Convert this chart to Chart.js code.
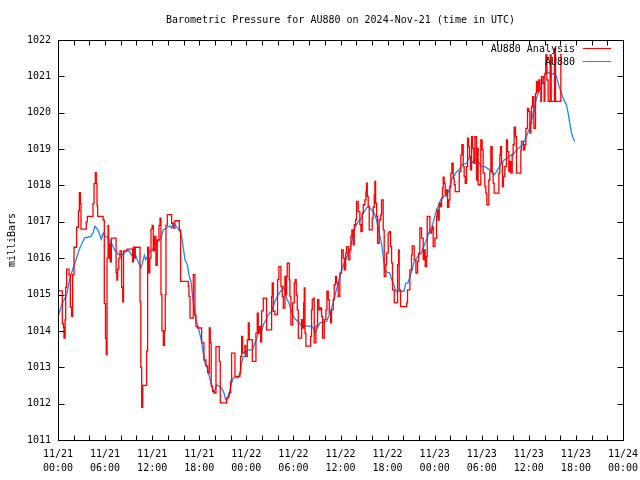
<!DOCTYPE html>
<html>
<head>
<meta charset="utf-8">
<title>Barometric Pressure for AU880</title>
<script src="https://cdn.jsdelivr.net/npm/chart.js@4.4.1/dist/chart.umd.min.js"></script>
<style>
  html, body { margin: 0; padding: 0; background: #fff; }
  canvas { display: block; }
</style>
</head>
<body>
<canvas id="pressureChart" width="640" height="480"></canvas>
<script>
// x values are hours since 2024-11-21 00:00 UTC
const analysisHours = [
  0.0, 0.55, 0.7, 0.76, 0.9, 0.98, 1.1, 1.4, 1.57, 1.74,
  1.87, 2.04, 2.38, 2.6, 2.72, 2.85, 2.93, 3.6, 3.74, 4.46,
  4.59, 4.76, 4.88, 4.97, 5.05, 5.75, 5.9, 6.05, 6.15, 6.25,
  6.38, 6.45, 6.55, 6.65, 6.8, 7.4, 7.5, 7.6, 7.75, 7.9,
  8.1, 8.25, 8.35, 8.8, 9.5, 9.6, 9.7, 9.85, 10.45, 10.55,
  10.66, 10.8, 11.3, 11.42, 11.55, 11.7, 11.85, 12.0, 12.14, 12.3,
  12.48, 12.65, 12.87, 13.0, 13.12, 13.25, 13.42, 13.55, 13.67, 13.76,
  13.93, 14.48, 14.69, 14.9, 15.46, 15.63, 16.6, 16.69, 16.82, 17.24,
  17.45, 17.58, 17.79, 18.3, 18.6, 18.85, 19.07, 19.28, 19.4, 19.52,
  19.7, 19.92, 20.13, 20.55, 20.68, 21.49, 21.7, 21.83, 22.0, 22.12,
  22.55, 23.19, 23.27, 23.4, 23.53, 23.82, 23.91, 24.12, 24.25, 24.37,
  24.76, 25.22, 25.39, 25.52, 25.65, 25.82, 25.95, 26.16, 26.58, 27.22,
  27.3, 27.43, 27.64, 27.98, 28.15, 28.41, 28.58, 28.71, 28.92, 29.0,
  29.13, 29.21, 29.47, 29.55, 29.68, 29.9, 30.11, 30.23, 30.36, 30.49,
  30.62, 31.04, 31.17, 31.3, 31.38, 31.47, 31.59, 32.19, 32.31, 32.4,
  32.53, 32.65, 32.87, 33.08, 33.25, 33.42, 33.59, 33.72, 33.93, 34.14,
  34.27, 34.44, 34.57, 34.74, 34.86, 35.07, 35.2, 35.37, 35.5, 35.71,
  35.92, 36.14, 36.35, 36.48, 36.65, 36.77, 36.99, 37.2, 37.33, 37.45,
  37.62, 37.75, 37.92, 38.05, 38.26, 38.47, 38.6, 38.77, 38.9, 39.11,
  39.24, 39.32, 39.41, 39.53, 39.66, 40.04, 40.17, 40.3, 40.38, 40.47,
  40.6, 40.72, 40.93, 41.1, 41.23, 41.44, 41.57, 41.78, 41.87, 42.08,
  42.21, 42.38, 42.51, 42.63, 42.85, 43.27, 43.4, 43.48, 43.65, 44.42,
  44.54, 44.84, 45.05, 45.14, 45.39, 45.61, 45.82, 45.95, 46.11, 46.33,
  46.54, 46.67, 46.79, 46.96, 47.05, 47.39, 47.6, 47.73, 47.81, 48.03,
  48.24, 48.32, 48.45, 48.58, 48.75, 48.88, 49.0, 49.09, 49.21, 49.34,
  49.51, 49.64, 49.81, 49.94, 50.06, 50.19, 50.36, 50.49, 50.62, 51.13,
  51.34, 51.47, 51.64, 51.76, 51.89, 52.06, 52.19, 52.31, 52.44, 52.57,
  52.7, 52.82, 52.99, 53.12, 53.33, 53.46, 53.54, 53.88, 54.05, 54.18,
  54.39, 54.52, 54.65, 54.9, 55.03, 55.16, 55.33, 55.46, 55.58, 56.18,
  56.3, 56.39, 56.52, 56.64, 56.77, 56.94, 57.15, 57.28, 57.45, 57.58,
  57.71, 57.88, 58.0, 58.13, 58.3, 58.43, 58.98, 59.06, 59.32, 59.49,
  59.62, 59.83, 60.0, 60.13, 60.25, 60.34, 60.47, 60.64, 60.85, 60.98,
  61.1, 61.27, 61.4, 61.53, 61.61, 61.83, 61.95, 62.04, 62.16, 62.3,
  62.46, 62.72, 62.85, 63.27, 63.4, 64.08, 64.2
];
const analysisValues = [
  1015.1, 1014.2, 1014.1, 1013.8, 1014.3, 1015.2, 1015.7, 1015.55, 1014.65, 1014.4,
  1015.55, 1016.3, 1016.85, 1017.3, 1017.8, 1017.5, 1016.8, 1017.0, 1017.15, 1017.5,
  1018.05, 1018.35, 1018.05, 1017.45, 1017.15, 1017.05, 1014.75, 1013.8, 1013.35, 1016.0,
  1016.9, 1016.0, 1016.4, 1015.9, 1016.55, 1015.6, 1015.4, 1015.7, 1016.0, 1016.2,
  1015.2, 1014.8, 1016.2, 1016.25, 1015.9, 1016.3, 1016.0, 1016.3, 1014.8, 1013.0,
  1011.9, 1012.5, 1013.45, 1016.3, 1015.6, 1016.0, 1016.8, 1016.9, 1016.2, 1016.6,
  1015.8, 1016.5, 1016.9, 1017.1, 1015.0, 1014.0, 1013.6, 1014.0, 1015.0, 1016.9,
  1017.2, 1016.96, 1016.83, 1017.03, 1016.78, 1015.36, 1015.22, 1014.95, 1014.35, 1015.55,
  1014.44, 1014.12, 1014.08, 1013.67, 1013.2, 1013.03, 1012.85, 1014.08, 1013.67, 1012.48,
  1012.34, 1012.29, 1013.57, 1013.16, 1012.02, 1012.15, 1012.2, 1012.3, 1012.61, 1013.39,
  1012.75, 1012.84, 1013.3, 1013.85, 1013.39, 1013.6, 1013.3, 1013.75, 1014.22, 1013.76,
  1013.16, 1013.94, 1014.49, 1013.94, 1014.12, 1013.7, 1014.55, 1014.9, 1014.03, 1014.95,
  1015.32, 1014.54, 1014.45, 1015.41, 1015.77, 1015.22, 1014.95, 1014.63, 1015.5, 1014.99,
  1015.5, 1015.86, 1015.41, 1014.95, 1014.17, 1014.77, 1015.32, 1015.41, 1014.99, 1014.58,
  1013.8, 1014.31, 1014.08, 1014.77, 1015.18, 1013.94, 1013.58, 1013.85, 1014.58, 1014.86,
  1014.9, 1013.67, 1014.13, 1014.86, 1014.58, 1014.63, 1014.4, 1013.8, 1014.31, 1014.58,
  1015.09, 1014.86, 1014.49, 1014.22, 1014.58, 1014.86, 1015.27, 1015.5, 1015.32, 1014.95,
  1015.59, 1016.23, 1016.0, 1015.68, 1016.14, 1016.32, 1015.96, 1016.23, 1016.6, 1016.78,
  1016.37, 1016.92, 1017.06, 1017.56, 1017.28, 1016.92, 1016.73, 1017.24, 1017.47, 1017.6,
  1017.83, 1018.06, 1017.7, 1017.42, 1016.78, 1017.1, 1017.4, 1017.74, 1018.11, 1017.51,
  1017.15, 1016.41, 1017.05, 1017.19, 1017.6, 1016.78, 1015.5, 1015.82, 1016.14, 1016.69,
  1016.73, 1016.32, 1015.87, 1015.13, 1014.77, 1015.82, 1016.23, 1015.13, 1014.67, 1014.77,
  1015.13, 1015.68, 1016.09, 1016.34, 1015.96, 1015.59, 1015.91, 1016.14, 1016.83, 1016.55,
  1015.96, 1016.23, 1015.77, 1016.05, 1017.15, 1016.69, 1016.78, 1016.87, 1016.32, 1016.55,
  1017.15, 1017.33, 1017.05, 1017.51, 1017.42, 1017.65, 1017.93, 1018.23, 1018.06, 1017.74,
  1017.88, 1017.4, 1017.6, 1017.97, 1018.34, 1018.61, 1018.2, 1018.02, 1017.83, 1018.38,
  1018.84, 1019.12, 1018.52, 1018.25, 1018.06, 1018.52, 1019.3, 1019.07, 1018.79, 1018.43,
  1019.34, 1019.02, 1018.61, 1019.34, 1018.15, 1019.02, 1018.02, 1019.25, 1018.98, 1018.34,
  1017.97, 1017.79, 1017.47, 1018.15, 1018.38, 1019.07, 1018.34, 1018.06, 1017.79, 1018.34,
  1018.84, 1019.07, 1018.61, 1017.97, 1018.25, 1018.52, 1019.25, 1018.93, 1018.38, 1018.66,
  1018.34, 1018.84, 1019.12, 1019.6, 1019.34, 1018.34, 1018.98, 1019.21, 1018.98, 1019.12,
  1019.57, 1020.12, 1020.03, 1019.44, 1019.71, 1020.17, 1020.44, 1019.57, 1020.53, 1020.86,
  1020.58, 1020.9, 1020.67, 1020.31, 1020.99, 1020.81, 1020.31, 1021.08, 1021.59, 1020.9,
  1020.31, 1021.59, 1020.31, 1021.77, 1020.31, 1021.6, 1021.6
];

const stationHours = [
  0, 0.5, 1.1, 1.5, 2.2, 2.8, 3.4, 4.2, 4.5, 4.7,
  5.05, 5.35, 5.5, 5.77, 6.0, 6.4, 6.84, 7.26, 7.7, 8.3,
  8.75, 9.04, 9.4, 9.7, 9.9, 10.2, 10.57, 10.74, 11.0, 11.17,
  11.5, 11.72, 12.06, 12.36, 12.78, 13.12, 13.42, 13.84, 14.27, 14.48,
  14.69, 14.9, 15.33, 15.54, 15.75, 15.97, 16.18, 16.48, 16.73, 16.94,
  17.11, 17.33, 17.58, 17.79, 18.09, 18.3, 18.51, 18.73, 19.02, 19.28,
  19.58, 19.79, 20.0, 20.21, 20.51, 20.85, 21.15, 21.36, 21.7, 21.91,
  22.12, 22.34, 22.97, 23.19, 23.4, 23.61, 23.82, 24.03, 24.25, 24.8,
  25.1, 25.31, 25.52, 25.73, 25.95, 26.16, 26.5, 26.79, 27.22, 27.64,
  28.07, 28.49, 28.71, 28.92, 29.13, 29.43, 29.68, 29.98, 30.28, 30.62,
  31.04, 32.31, 32.53, 32.74, 32.95, 33.38, 34.23, 34.65, 35.07, 35.37,
  35.71, 36.14, 36.56, 36.99, 37.33, 37.62, 37.84, 38.26, 38.68, 38.9,
  39.32, 39.62, 39.96, 40.3, 40.6, 40.93, 41.23, 41.44, 41.66, 42.29,
  42.51, 42.8, 43.06, 44.08, 44.33, 44.63, 44.84, 45.14, 45.39, 45.69,
  46.03, 46.33, 46.62, 46.96, 47.3, 47.6, 47.9, 48.24, 48.45, 48.75,
  49.09, 49.51, 49.85, 50.15, 50.45, 50.79, 51.13, 51.42, 52.06, 52.48,
  52.7, 53.12, 53.55, 53.97, 54.39, 54.73, 55.33, 55.58, 55.88, 56.52,
  56.86, 57.45, 57.79, 58.3, 58.64, 58.98, 59.28, 59.49, 59.7, 59.91,
  60.13, 60.34, 60.55, 60.76, 60.98, 61.19, 61.4, 61.61, 61.83, 62.04,
  62.25, 62.68, 62.89, 63.31, 63.52, 63.74, 63.95, 64.16, 64.37, 64.58,
  64.8, 65.01, 65.22, 65.44, 65.65, 65.86
];
const stationValues = [
  1014.38, 1014.75, 1014.98, 1015.45, 1015.9, 1016.29, 1016.56, 1016.6, 1016.72, 1016.88,
  1016.79, 1016.63, 1016.52, 1016.69, 1016.6, 1016.56, 1016.4, 1016.21, 1016.1, 1016.1,
  1016.21, 1016.2, 1016.08, 1015.99, 1016.08, 1015.9, 1015.74, 1015.85, 1016.08, 1015.96,
  1016.08, 1016.21, 1016.23, 1016.4, 1016.47, 1016.56, 1016.78, 1016.83, 1016.89, 1016.83,
  1016.98, 1016.92, 1016.8, 1016.73, 1016.6, 1016.28, 1015.96, 1015.82, 1015.5, 1015.36,
  1015.04, 1014.67, 1014.3, 1014.17, 1013.9, 1013.71, 1013.39, 1013.12, 1012.98, 1012.75,
  1012.52, 1012.31, 1012.38, 1012.52, 1012.48, 1012.43, 1012.29, 1012.11, 1012.2, 1012.38,
  1012.57, 1012.71, 1012.71, 1012.84, 1013.12, 1013.3, 1013.3, 1013.44, 1013.48, 1013.48,
  1013.67, 1013.76, 1013.94, 1013.94, 1013.99, 1014.17, 1014.3, 1014.45, 1014.54, 1014.81,
  1015.0, 1015.13, 1015.22, 1015.09, 1014.9, 1014.77, 1014.58, 1014.4, 1014.31, 1014.26,
  1014.13, 1014.13, 1014.08, 1013.94, 1014.03, 1014.22, 1014.26, 1014.49, 1014.77, 1015.04,
  1015.32, 1015.68, 1015.91, 1016.14, 1016.37, 1016.64, 1016.83, 1017.01, 1017.1, 1017.24,
  1017.38, 1017.42, 1017.33, 1017.24, 1017.05, 1016.69, 1016.41, 1016.05, 1015.64, 1015.59,
  1015.41, 1015.27, 1015.09, 1015.09, 1015.31, 1015.33, 1015.5, 1015.68, 1015.91, 1016.0,
  1016.09, 1016.14, 1016.32, 1016.5, 1016.73, 1016.83, 1017.05, 1017.33, 1017.42, 1017.6,
  1017.7, 1017.71, 1017.88, 1018.15, 1018.25, 1018.38, 1018.43, 1018.57, 1018.61, 1018.79,
  1018.61, 1018.72, 1018.65, 1018.52, 1018.52, 1018.47, 1018.38, 1018.29, 1018.38, 1018.61,
  1018.7, 1018.79, 1018.84, 1018.93, 1019.02, 1019.07, 1019.16, 1019.25, 1019.34, 1019.48,
  1019.57, 1019.8, 1019.99, 1020.17, 1020.4, 1020.53, 1020.63, 1020.72, 1020.9, 1021.04,
  1021.13, 1021.08, 1021.04, 1021.1, 1020.99, 1020.81, 1020.67, 1020.53, 1020.4, 1020.31,
  1020.21, 1019.99, 1019.71, 1019.44, 1019.3, 1019.21
];

const dayLabels = ['11/21', '11/22', '11/23', '11/24'];
const hourLabels = ['00:00', '06:00', '12:00', '18:00'];
const seriesNames = ['AU880 Analysis', 'AU880'];
const chartTitle = 'Barometric Pressure for AU880 on 2024-Nov-21 (time in UTC)';

const MONO = "'DejaVu Sans Mono', 'Liberation Mono', monospace";
const RED = '#ff0000';
const BLUE = '#1a86ff';

function toPoints(xs, ys) {
    return xs.map((x, i) => ({ x: x, y: ys[i] }));
}

// gnuplot style frame: box, inward ticks on all four sides, title and key
const gnuplotFrame = {
    id: 'gnuplotFrame',
    afterDraw(chart) {
        const ctx = chart.ctx;
        const a = chart.chartArea;
        const xs = chart.scales.x;
        const ys = chart.scales.y;
        const L = Math.round(a.left) + 0.5, R = Math.round(a.right) + 0.5;
        const T = Math.round(a.top) + 0.5, B = Math.round(a.bottom) + 0.5;

        ctx.save();
        ctx.strokeStyle = '#000';
        ctx.lineWidth = 1;
        ctx.beginPath();
        xs.ticks.forEach(t => {
            const px = Math.round(xs.getPixelForValue(t.value)) + 0.5;
            ctx.moveTo(px, B); ctx.lineTo(px, B - 5);
            ctx.moveTo(px, T); ctx.lineTo(px, T + 5);
        });
        ys.ticks.forEach(t => {
            const py = Math.round(ys.getPixelForValue(t.value)) + 0.5;
            ctx.moveTo(L, py); ctx.lineTo(L + 6, py);
            ctx.moveTo(R, py); ctx.lineTo(R - 6, py);
        });
        ctx.stroke();
        ctx.strokeRect(L, T, R - L, B - T);

        ctx.fillStyle = '#000';
        ctx.font = '10px ' + MONO;
        ctx.textBaseline = 'middle';
        ctx.textAlign = 'center';
        ctx.fillText(chartTitle, (a.left + a.right) / 2, 20);

        // key, top right inside the plot
        const colors = [RED, BLUE];
        seriesNames.forEach((name, i) => {
            const y = 49 + i * 13;
            ctx.textAlign = 'right';
            ctx.fillStyle = '#000';
            ctx.fillText(name, 575, y);
            ctx.strokeStyle = colors[i];
            ctx.beginPath();
            ctx.moveTo(583, Math.round(y) - 0.5);
            ctx.lineTo(611, Math.round(y) - 0.5);
            ctx.stroke();
        });
        ctx.restore();
    }
};

Chart.defaults.font.family = MONO;
Chart.defaults.font.size = 10;
Chart.defaults.color = '#000';

const ctx = document.getElementById('pressureChart').getContext('2d');
new Chart(ctx, {
    type: 'line',
    data: {
        datasets: [
            {
                label: seriesNames[0],
                data: toPoints(analysisHours, analysisValues),
                borderColor: RED,
                borderWidth: 1.3,
                pointRadius: 0,
                stepped: 'before',
                fill: false
            },
            {
                label: seriesNames[1],
                data: toPoints(stationHours, stationValues),
                borderColor: BLUE,
                borderWidth: 1.3,
                pointRadius: 0,
                tension: 0,
                fill: false
            }
        ]
    },
    options: {
        responsive: false,
        animation: false,
        devicePixelRatio: 1,
        layout: { padding: { top: 40, right: 17, left: 0, bottom: 0 } },
        plugins: {
            legend: { display: false },
            title: { display: false },
            tooltip: { enabled: false }
        },
        scales: {
            x: {
                type: 'linear',
                min: 0,
                max: 72,
                grid: { display: false, drawTicks: false },
                border: { display: false },
                afterFit: (scale) => {
                    scale.height = 40;
                    scale.paddingLeft = 0;
                    scale.paddingRight = 0;
                },
                ticks: {
                    stepSize: 2,
                    autoSkip: false,
                    maxRotation: 0,
                    padding: 8,
                    font: { size: 10, lineHeight: 1.35 },
                    callback: (v) => {
                        if (v % 6 !== 0) return '';
                        const day = Math.floor(v / 24);
                        return [dayLabels[day], hourLabels[(v % 24) / 6]];
                    }
                }
            },
            y: {
                min: 1011,
                max: 1022,
                grid: { display: false, drawTicks: false },
                border: { display: false },
                afterFit: (scale) => { scale.width = 58; },
                ticks: {
                    stepSize: 1,
                    padding: 7,
                    callback: (v) => String(v)
                },
                title: {
                    display: true,
                    text: 'milliBars',
                    padding: { top: 6, bottom: 0 },
                    font: { size: 10 }
                }
            }
        }
    },
    plugins: [gnuplotFrame]
});
</script>
</body>
</html>
